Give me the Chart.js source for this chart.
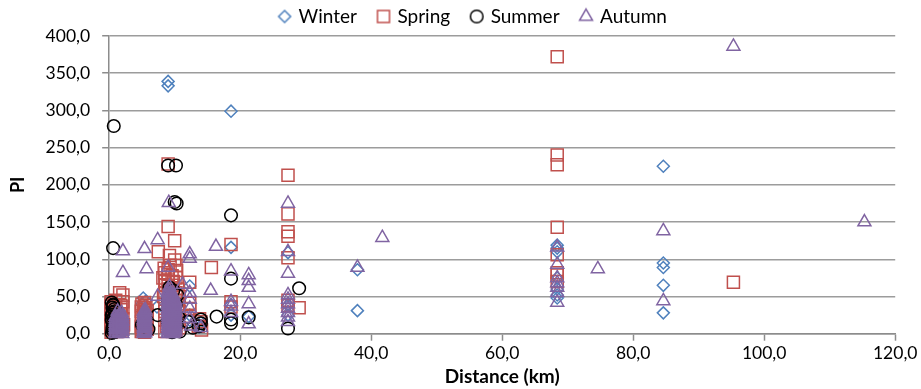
<!DOCTYPE html>
<html><head><meta charset="utf-8">
<script src="https://cdn.jsdelivr.net/npm/chart.js@4.4.1/dist/chart.umd.min.js"></script>
<style>html,body{margin:0;padding:0;background:#fff}canvas{display:block}</style>
</head><body>
<canvas id="c" width="921" height="389"></canvas>
<script>
const seriesNames = ['Winter', 'Spring', 'Summer', 'Autumn'];
const xTickValues = [0, 20, 40, 60, 80, 100, 120];
const yTickValues = [0, 50, 100, 150, 200, 250, 300, 350, 400];

const winter = [
  [9.0,339],[9.0,333],[18.6,299],[84.6,225],[84.6,95],[84.6,89],[84.6,65],[84.6,28],
  [68.4,119],[68.4,115],[68.4,110],[68.4,75],[68.4,60],[68.4,52],[68.4,48],
  [37.9,86],[37.9,31],[27.3,109],[27.3,38],[27.3,25],
  [18.6,116],[18.6,39],[18.6,25],[21.3,23],[12.3,64],[12.3,25],[12.3,18],[14.0,15],[13.8,9],
  [5.2,48],[5.6,44],[5.0,40],[5.4,30],[5.8,20],[5.1,10],[5.7,5],
  [7.3,36],[9.5,60],[8.8,30],[10.0,20],[9.2,12],[10.3,40],
  [0.5,15],[1.2,8],[2.0,20],[1.6,30]
];
const spring = [
  [68.4,372],[68.4,240],[68.4,227],[68.4,143],[68.4,106],[68.4,82],[68.4,79],[68.4,70],
  [95.3,69],[9.0,228],
  [27.3,213],[27.3,161],[27.3,137],[27.3,131],[27.3,102],[27.3,45],[27.3,38],
  [18.6,120],[18.6,43],[18.6,36],[15.6,89],[29.0,35],
  [9.0,144],[10.0,125],[7.5,110],[9.2,105],[10.0,99],
  [12.3,69],[12.3,41],[12.3,34],[12.3,23],[2.1,52],
  [0.3,40],[0.5,30],[0.6,18],[0.4,8],[1.0,45],[1.6,55],[2.1,43],[1.8,25],[2.2,12],[1.3,3],[0.8,35],
  [0.3,2],[0.3,6],[0.3,11],[0.3,14],[0.3,20],[0.3,24],[0.3,27],[0.3,33],[0.3,37],[0.3,43],
  [0.7,4],[0.7,9],[0.7,13],[0.7,22],[0.7,26],[0.7,39],[1.8,5],[1.8,18],[1.8,32],[1.8,38],
  [2.1,8],[2.1,20],[2.1,35],
  [5.0,40],[5.3,35],[5.6,38],[5.8,25],[5.0,22],[5.4,15],[5.7,8],[5.1,5],[5.3,28],
  [4.9,3],[4.9,10],[4.9,17],[4.9,30],[4.9,36],[5.4,2],[5.4,12],[5.4,20],[5.4,33],[5.4,42],
  [5.8,6],[5.8,14],[5.8,31],
  [8.4,88],[9.3,92],[8.2,75],[9.0,80],[10.3,85],[8.6,65],[9.8,70],[10.5,60],[8.3,50],[9.5,45],
  [10.6,40],[8.5,30],[9.9,25],[10.5,15],[8.8,10],[9.4,5],
  [8.5,3],[8.5,18],[8.5,40],[8.5,55],[8.5,70],[8.5,82],[9.0,20],[9.0,35],[9.0,60],[9.0,72],[9.0,86],
  [9.6,10],[9.6,30],[9.6,50],[9.6,65],[9.6,78],[10.2,5],[10.2,22],[10.2,45],[10.2,55],[10.2,75],[10.2,92],
  [10.7,8],[10.7,30],[10.7,50],
  [13.8,20],[14.0,16],[13.6,10],[14.1,5]
];
const summer = [
  [0.7,279],[0.6,115],[0.6,39],[0.4,42],[9.0,226],[10.2,226],[10.0,177],[10.3,175],
  [18.6,159],[18.6,74],[18.6,19],[18.6,14],[29.0,61],[16.4,23],[21.3,22],[27.3,7],
  [14.0,19],[14.0,14],[13.7,10],[7.4,25],
  [0.5,35],[0.8,30],[0.4,25],[0.9,20],[0.6,15],[1.0,10],[0.5,5],[0.8,2],
  [0.4,1],[0.7,4],[0.5,8],[0.8,12],[0.4,18],[0.7,22],[0.5,28],[0.8,33],[0.6,38],
  [9.2,62],[9.8,58],[10.4,52],[9.0,45],[10.2,40],[9.5,30],[10.6,22],[9.0,15],[10.0,8],[10.8,3],
  [9.4,50],[9.7,35],[10.0,27],[9.2,20],[10.3,12],[9.6,2],
  [5.0,12],[6.0,6],[12.0,16],[12.8,8]
];
const autumn = [
  [95.3,386],[115.3,150],[84.6,138],[84.6,44],[74.6,87],
  [68.4,116],[68.4,93],[68.4,75],[68.4,68],[68.4,62],[68.4,55],[68.4,42],
  [41.7,129],[37.9,89],
  [27.3,175],[27.3,110],[27.3,81],[27.3,52],[27.3,46],[27.3,40],[27.3,34],[27.3,28],[27.3,22],[27.3,16],
  [21.3,79],[21.3,71],[21.3,62],[21.3,40],[21.3,13],
  [18.6,84],[18.6,43],[18.6,37],[18.6,28],[16.3,117],[15.5,58],
  [12.3,107],[12.3,101],[12.3,55],[12.3,46],[12.3,34],[12.3,20],[12.5,10],
  [9.1,176],[7.4,126],[5.4,114],[2.1,111],[2.1,82],[5.7,87],[9.0,89],[7.4,50],[11.2,66],[14.0,8],
  [1.0,0],[1.0,2],[1.0,5],[1.0,7],[1.0,10],[1.0,12],[1.0,15],[1.0,17],[1.0,20],[1.0,23],
  [1.5,1],[1.5,3],[1.5,6],[1.5,9],[1.5,11],[1.5,14],[1.5,16],[1.5,19],[1.5,22],[1.5,25],
  [2.0,0],[2.0,3],[2.0,5],[2.0,8],[2.0,10],[2.0,13],[2.0,16],[2.0,18],[2.0,21],[2.0,24],
  [1.3,30],[1.9,28],
  [5.3,0],[5.3,2],[5.3,4],[5.3,7],[5.3,9],[5.3,12],[5.3,14],[5.3,17],[5.3,19],[5.3,22],[5.3,24],[5.3,27],[5.3,30],
  [5.5,1],[5.5,3],[5.5,6],[5.5,8],[5.5,11],[5.5,13],[5.5,16],[5.5,18],[5.5,21],[5.5,23],[5.5,26],[5.5,29],[5.5,32],
  [9.0,0],[9.0,2],[9.0,5],[9.0,8],[9.0,11],[9.0,14],[9.0,17],[9.0,20],[9.0,23],[9.0,26],[9.0,29],
  [9.0,32],[9.0,35],[9.0,38],[9.0,41],[9.0,44],[9.0,47],[9.0,50],[9.0,53],[9.0,56],[9.1,59],[9.2,63],
  [9.4,1],[9.4,4],[9.4,7],[9.4,10],[9.4,13],[9.4,16],[9.4,19],[9.4,22],[9.4,25],[9.4,28],
  [9.4,31],[9.4,34],[9.4,37],[9.4,40],[9.4,43],[9.4,46],[9.4,49],[9.4,52],[9.4,55],
  [9.8,0],[9.8,3],[9.8,6],[9.8,9],[9.8,12],[9.8,15],[9.8,18],[9.8,21],[9.8,24],[9.8,27],
  [9.8,30],[9.8,33],[9.8,36],[9.8,39],[9.8,42],[9.8,45],[9.8,48],[9.8,51],
  [10.1,2],[10.1,5],[10.1,8],[10.1,11],[10.1,14],[10.1,17],[10.1,20],[10.1,23],[10.1,26],
  [10.1,29],[10.1,32],[10.1,35],[10.1,38],[10.1,41],[10.1,44]
];

const toPts = arr => arr.map(p => ({x: p[0], y: p[1]}));
const fmt = v => Number(v).toFixed(1).replace('.', ',');
const gray = '#8c8c8c';

const styles = [
  {color: '#4F81BD', pointStyle: 'rectRot', r: 6},
  {color: '#C0504D', pointStyle: 'rect', r: 8.5},
  {color: '#000000', pointStyle: 'circle', r: 6.3},
  {color: '#8064A2', pointStyle: 'triangle', r: 7.5}
];
const allData = [winter, spring, summer, autumn];

function legendIcon(st) {
  const cv = document.createElement('canvas');
  cv.width = 22; cv.height = 22;
  const cx = cv.getContext('2d');
  cx.strokeStyle = st.color;
  cx.fillStyle = 'rgba(0,0,0,0)';
  cx.lineWidth = 1.5;
  Chart.helpers.drawPoint(cx, {pointStyle: st.pointStyle, radius: st.r, rotation: 0, borderWidth: 1.5}, 11, 11);
  return cv;
}

const datasets = seriesNames.map((name, i) => ({
  label: name,
  data: toPts(allData[i]),
  borderColor: styles[i].color,
  backgroundColor: 'rgba(0,0,0,0)',
  pointStyle: styles[i].pointStyle,
  pointRadius: styles[i].r,
  pointBorderWidth: 1.5,
  borderWidth: 1.5,
  order: 3 - i,
  clip: false
}));

new Chart(document.getElementById('c'), {
  type: 'scatter',
  data: {datasets},
  options: {
    responsive: false,
    animation: false,
    events: [],
    layout: {padding: {left: 0, right: -26, top: -15, bottom: 0}},
    plugins: {
      tooltip: {enabled: false},
      legend: {
        position: 'top',
        align: 'center',
        labels: {
          usePointStyle: true,
          boxWidth: 9,
          boxHeight: 9,
          padding: 22,
          color: '#000',
          font: {family: 'Lato', size: 19},
          sort: (a, b) => a.datasetIndex - b.datasetIndex,
          generateLabels: chart => {
            const items = Chart.defaults.plugins.legend.labels.generateLabels(chart);
            items.forEach(it => { it.pointStyle = legendIcon(styles[it.datasetIndex]); });
            return items;
          }
        }
      }
    },
    scales: {
      x: {
        type: 'linear',
        position: 'bottom',
        min: 0, max: 120,
        afterBuildTicks: s => { s.ticks = xTickValues.map(v => ({value: v})); },
        ticks: {
          callback: v => fmt(v),
          color: '#000',
          font: {family: 'Lato', size: 17.5, lineHeight: 1.0},
          padding: 3.5,
          maxRotation: 0
        },
        grid: {drawOnChartArea: false, drawTicks: true, tickLength: 7, tickColor: gray, tickWidth: 1.5},
        border: {display: true, color: gray, width: 1.5},
        title: {display: true, text: 'Distance (km)', color: '#000',
          font: {family: 'Lato', size: 19, weight: 'bold'}, padding: {top: 0, bottom: 1}}
      },
      y: {
        min: 0, max: 400,
        afterBuildTicks: s => { s.ticks = yTickValues.map(v => ({value: v})); },
        ticks: {
          callback: v => fmt(v),
          color: '#000',
          font: {family: 'Lato', size: 17.5},
          padding: 12
        },
        grid: {color: '#9c9c9c', lineWidth: 1.5, tickLength: 7, tickColor: gray, tickWidth: 1.5},
        border: {display: true, color: gray, width: 1.5},
        title: {display: true, text: 'PI', color: '#000',
          font: {family: 'Lato', size: 18, weight: 'bold'}, padding: {top: 7, bottom: 5}}
      }
    }
  }
});
</script>
</body></html>
